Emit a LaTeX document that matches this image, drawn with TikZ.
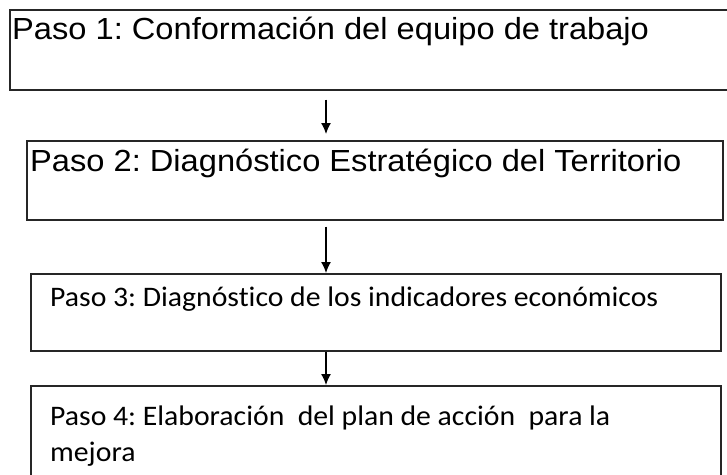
\documentclass[tikz,border=0pt]{standalone}
\usepackage{fontspec}
\setmainfont[FakeStretch=1.07]{Liberation Sans}
\newfontfamily\calib[FakeStretch=1.05,Ligatures=NoCommon]{Carlito}
\usetikzlibrary{arrows.meta}
\frenchspacing
\tikzset{
  paso/.style={draw=black!85, line width=1.5pt, rectangle, anchor=north west, inner sep=0pt},
  txta/.style={anchor=base west, inner sep=0pt, font=\fontsize{30.5}{36}\selectfont},
  txtb/.style={anchor=base west, inner sep=0pt, font=\calib\fontsize{28.3}{36}\selectfont, align=left},
  flecha/.style={-{Latex[length=11pt,width=10pt]}, line width=1.3pt}
}
\begin{document}
\begin{tikzpicture}[x=1pt,y=-1pt]
\useasboundingbox (0,0) rectangle (727,474);
\coordinate (ax) at (326,0);
\node[paso, minimum width=731pt, minimum height=80pt] (p1) at (9,9) {};
\node[paso, minimum width=696pt, minimum height=79pt] (p2) at (26,140) {};
\node[paso, minimum width=690pt, minimum height=77pt] (p3) at (30,273) {};
\node[paso, minimum width=690pt, minimum height=120pt] (p4) at (30,385) {};
\node[txta] (t1) at (12,39) {Paso 1: Conformación del equipo de trabajo};
\node[txta] (t2) at (30,171) {Paso 2: Diagnóstico Estratégico del Territorio};
\node[txtb] (t3) at (50,306) {Paso 3: Diagnóstico de los indicadores económicos};
\node[txtb] (t4) at (50,425) {Paso 4: Elaboración~ del plan de acción~ para la};
\node[txtb] (t5) at (50,461) {mejora};
\draw[flecha, shorten <=9pt, shorten >=6pt] (p1.south -| ax) -- (p2.north -| ax);
\draw[flecha, shorten <=6pt] (p2.south -| ax) -- (p3.north -| ax);
\draw[flecha] (p3.south -| ax) -- (p4.north -| ax);
\end{tikzpicture}
\end{document}
